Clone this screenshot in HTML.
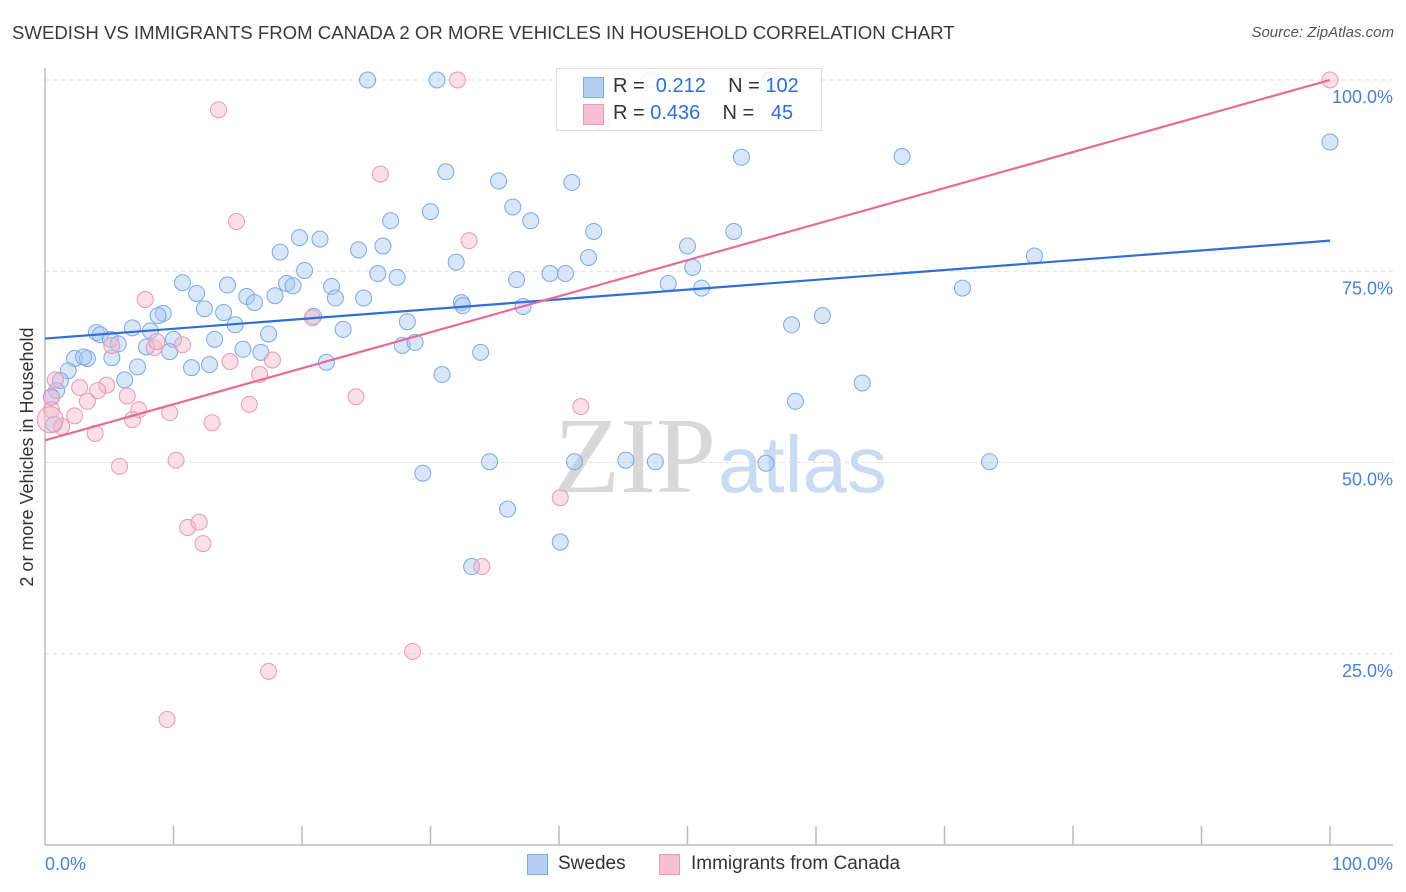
<!DOCTYPE html>
<html><head><meta charset="utf-8"><style>
body{margin:0;background:#fff;font-family:"Liberation Sans",sans-serif;}
#wrap{position:relative;width:1406px;height:892px;overflow:hidden;}
.t{position:absolute;white-space:nowrap;}
</style></head><body>
<div id="wrap">
<div class="t" style="left:12px;top:22px;font-size:18.6px;color:#3a3a3a;">SWEDISH VS IMMIGRANTS FROM CANADA 2 OR MORE VEHICLES IN HOUSEHOLD CORRELATION CHART</div>
<div class="t" style="right:12px;top:24px;font-size:15px;color:#555;font-style:italic;">Source: ZipAtlas.com</div>
<svg id="svg" width="1406" height="892" style="position:absolute;left:0;top:0">
<text x="716" y="492" text-anchor="end" font-family="Liberation Serif" font-size="108" fill="#d8d8d8">ZIP</text>
<text x="718" y="492" font-family="Liberation Sans" font-size="80" fill="#c9dbf2">atlas</text>
<g id="grid"></g><g id="axes"></g><g id="pts"></g><g id="lines"></g>
<text transform="translate(33,457) rotate(-90)" text-anchor="middle" font-size="18" fill="#333">2 or more Vehicles in Household</text>
</svg>
<div class="t" style="left:556px;top:68px;width:264px;height:61px;border:1px solid #ddd;background:rgba(255,255,255,0.85);">
 <div class="t" style="left:26px;top:8px;width:19px;height:19px;background:#b5cff3;border:1px solid #7aaae6;"></div>
 <div class="t" style="left:56px;top:6px;font-size:20px;color:#333;">R = &nbsp;<span style="color:#2e6fd6">0.212</span>&nbsp;&nbsp;&nbsp; N = <span style="color:#2e6fd6">102</span></div>
 <div class="t" style="left:26px;top:35px;width:19px;height:19px;background:#f7c0d2;border:1px solid #eb98b4;"></div>
 <div class="t" style="left:56px;top:33px;font-size:20px;color:#333;">R = <span style="color:#2e6fd6">0.436</span>&nbsp;&nbsp;&nbsp; N = &nbsp;&nbsp;<span style="color:#2e6fd6">45</span></div>
</div>
<div class="t" style="left:527px;top:854px;width:19px;height:19px;background:#b5cff3;border:1px solid #7aaae6;"></div>
<div class="t" style="left:558px;top:853px;font-size:19px;color:#333;">Swedes</div>
<div class="t" style="left:659px;top:854px;width:19px;height:19px;background:#f7c0d2;border:1px solid #eb98b4;"></div>
<div class="t" style="left:691px;top:853px;font-size:19px;color:#333;">Immigrants from Canada</div>
</div>
<script>
const blueX=[25.1,30.5,56.4,43.3,100,54.2,66.7,31.2,35.3,41.0,36.4,30.0,26.9,37.8,42.7,53.6,19.8,21.4,50.0,26.3,24.4,18.3,42.3,32.0,77.0,50.4,20.2,25.9,27.4,36.7,39.3,40.5,10.7,14.2,18.8,19.3,22.3,48.5,51.1,71.4,11.8,15.7,16.3,17.9,22.6,24.8,32.4,32.5,37.2,12.4,13.9,9.2,8.8,14.8,20.9,23.2,28.2,58.1,60.5,6.8,8.2,4.0,4.3,17.4,5.1,5.7,13.2,7.9,10.0,9.7,15.4,16.8,27.8,28.8,33.9,2.3,3.3,5.2,3.0,7.2,11.4,12.8,21.9,1.8,1.2,6.2,30.9,63.6,0.9,58.4,0.5,0.7,34.6,41.2,45.2,47.5,56.1,73.5,29.4,36.0,40.1,33.2];
const blueY=[100,100,100,94.5,91.9,89.9,90.0,88.0,86.8,86.6,83.4,82.8,81.6,81.6,80.2,80.2,79.4,79.2,78.3,78.3,77.8,77.5,76.8,76.2,77.0,75.5,75.1,74.7,74.2,73.9,74.7,74.7,73.5,73.2,73.4,73.1,73.0,73.4,72.8,72.8,72.1,71.7,70.9,71.8,71.5,71.5,70.9,70.5,70.4,70.1,69.6,69.5,69.2,68.0,69.1,67.4,68.4,68.0,69.2,67.6,67.2,67.0,66.7,66.8,66.1,65.5,66.1,65.1,66.1,64.5,64.8,64.4,65.3,65.7,64.4,63.6,63.6,63.7,63.8,62.5,62.4,62.8,63.1,62.0,60.7,60.8,61.5,60.4,59.4,58.0,58.6,55.0,50.1,50.1,50.3,50.1,49.9,50.1,48.6,43.9,39.6,36.4];
const pinkX=[32.1,100,47.1,13.5,26.1,14.9,33.0,7.8,20.8,8.5,10.7,8.7,5.2,17.7,14.4,16.7,0.8,2.7,4.8,4.1,6.4,0.5,0.5,3.3,24.2,15.9,41.7,7.3,9.7,2.3,6.8,13.0,1.3,3.9,5.8,10.2,40.1,11.1,12.0,12.3,34.0,28.6,17.4,9.5,0.4];
const pinkY=[100,100,100,96.1,87.7,81.5,79.0,71.3,68.9,65.0,65.4,65.8,65.3,63.4,63.2,61.5,60.8,59.8,60.1,59.4,58.7,58.5,56.9,58.0,58.6,57.6,57.3,56.9,56.5,56.1,55.6,55.2,54.7,53.8,49.5,50.3,45.4,41.5,42.2,39.4,36.4,25.3,22.7,16.4,55.6];
const blueTrend=[66.2,79.0];
const pinkTrend=[52.9,100];
const yTicks=[25,50,75,100];
const xTicks=[0,10,20,30,40,50,60,70,80,90,100];
const X0=45,X1=1330,Y0=845,Y1=80;
const sx=v=>X0+(X1-X0)*v/100, sy=v=>Y0-(Y0-Y1)*v/100;
const NS='http://www.w3.org/2000/svg';
function mk(tag,attrs,parent){const e=document.createElementNS(NS,tag);for(const k in attrs)e.setAttribute(k,attrs[k]);document.getElementById(parent).appendChild(e);return e;}
yTicks.forEach(v=>{
 const l=mk('line',{x1:X0,x2:1393,y1:sy(v),y2:sy(v),stroke:'#ddd','stroke-dasharray':'4,4'},'grid');
 
 
 const t=mk('text',{x:1393,y:sy(v)+23,'text-anchor':'end','font-size':18,fill:'#4a7fd8'},'grid');
 t.textContent=v.toFixed(1)+'%';
 
 
});
let a=mk('line',{x1:X0,x2:X0,y1:68,y2:Y0,stroke:'#bbb','stroke-width':1.5},'axes');


a=mk('line',{x1:X0,x2:1393,y1:Y0,y2:Y0,stroke:'#bbb','stroke-width':1.5},'axes');


xTicks.forEach(v=>{if(v===0)return;
 const l=mk('line',{x1:sx(v),x2:sx(v),y1:826,y2:Y0,stroke:'#bbb','stroke-width':1.5},'axes');
 
 
});
[[0,'start'],[100,'end']].forEach(([v,an])=>{
 const t=mk('text',{x:v===0?sx(v):1393,y:870,'text-anchor':an,'font-size':18,fill:'#4a7fd8'},'axes');
 t.textContent=v.toFixed(1)+'%';
 
 
});
blueX.forEach((x,i)=>{
 const c=mk('circle',{cx:sx(x),cy:sy(blueY[i]),r:8,fill:'rgba(168,200,240,0.45)',stroke:'#7aaae6','stroke-width':1},'pts');
 
 
});
pinkX.forEach((x,i)=>{
 const c=mk('circle',{cx:sx(x),cy:sy(pinkY[i]),r:i===pinkX.length-1?13:8,fill:'rgba(245,184,204,0.45)',stroke:'#eb98b4','stroke-width':1},'pts');
 
 
});
let l=mk('line',{x1:sx(0),y1:sy(blueTrend[0]),x2:sx(100),y2:sy(blueTrend[1]),stroke:'#2f6fd6','stroke-width':2.2},'lines');


l=mk('line',{x1:sx(0),y1:sy(pinkTrend[0]),x2:sx(100),y2:sy(pinkTrend[1]),stroke:'#e86a96','stroke-width':2.2},'lines');


</script>
</body></html>
